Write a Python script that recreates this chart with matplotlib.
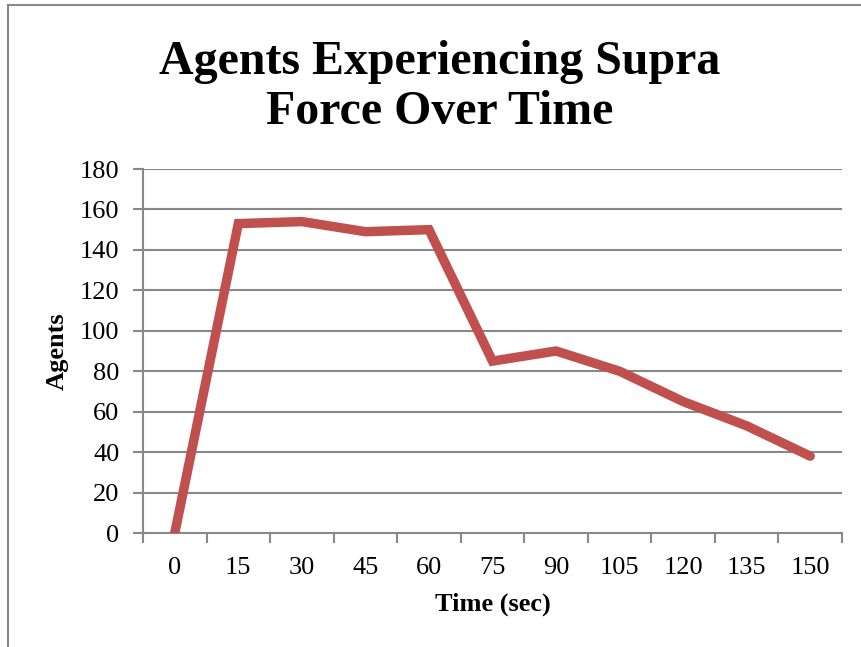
import matplotlib.pyplot as plt
from matplotlib.lines import Line2D

# data
times = ['0', '15', '30', '45', '60', '75', '90', '105', '120', '135', '150']
agents = [0, 153, 154, 149, 150, 85, 90, 80, 65, 53, 38]
y_ticks = [0, 20, 40, 60, 80, 100, 120, 140, 160, 180]

plt.rcParams['font.family'] = ['Liberation Serif', 'DejaVu Serif']

fig = plt.figure(figsize=(8.62, 6.47), dpi=100)
ax = fig.add_axes([143/862, 1 - 533/647, (842 - 143)/862, (533 - 169)/647])

grid_col = '#888888'
xs = [i + 0.5 for i in range(len(times))]
ax.plot(xs, agents, color='#C0504D', lw=6.8, solid_joinstyle='miter',
        solid_capstyle='round', zorder=3)

ax.set_xlim(0, len(times))
ax.set_ylim(0, 180)
ax.set_yticks(y_ticks)
ax.set_yticklabels([str(v) for v in y_ticks])
for v in y_ticks[1:]:
    ax.axhline(v, color=grid_col, lw=1.5, zorder=1)

# category axis: ticks at boundaries, labels at centres
ax.set_xticks(range(len(times) + 1))
ax.set_xticklabels([''] * (len(times) + 1))
ax.set_xticks(xs, minor=True)
ax.set_xticklabels(times, minor=True)
ax.tick_params(axis='x', which='minor', length=0, pad=17, labelsize=19)
ax.tick_params(axis='x', which='major', length=7, width=1.5, color=grid_col,
               direction='out')
ax.tick_params(axis='y', length=7, width=1.5, color=grid_col, labelsize=19, pad=10)

for s in ['top', 'right']:
    ax.spines[s].set_visible(False)
for s in ['left', 'bottom']:
    ax.spines[s].set_color(grid_col)
    ax.spines[s].set_linewidth(1.5)

ax.set_xlabel('Time (sec)', fontsize=19, fontweight='bold', labelpad=10)
ax.set_ylabel('Agents', fontsize=19, fontweight='bold', labelpad=8)

fig.text(440/862, 1 - 87/647, 'Agents Experiencing Supra\nForce Over Time',
         ha='center', va='center', fontsize=34.5, fontweight='bold',
         linespacing=1.2)

# chart frame (only top and left edges visible in the crop)
fig.add_artist(Line2D([8/862, 8/862], [0, 1 - 5/647], transform=fig.transFigure,
                      color='#888888', lw=1.5))
fig.add_artist(Line2D([8/862, 1], [1 - 5/647, 1 - 5/647], transform=fig.transFigure,
                      color='#888888', lw=1.5))

fig.savefig('out.png', dpi=100)
